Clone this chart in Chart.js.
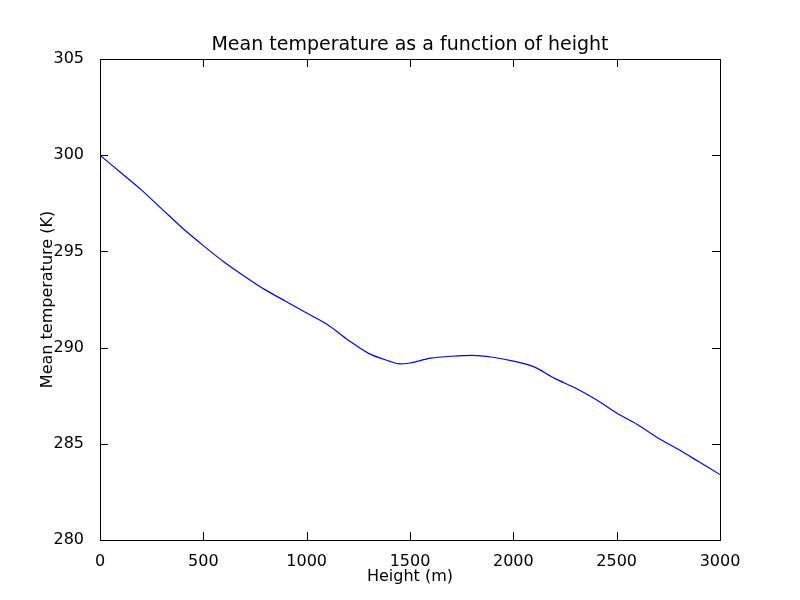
<!DOCTYPE html>
<html>
<head>
<meta charset="utf-8">
<script src="https://cdn.jsdelivr.net/npm/chart.js@4"></script>
<style>
  html, body { margin: 0; padding: 0; background: #fff; }
  #wrap { width: 800px; height: 600px; }
</style>
</head>
<body>
<div id="wrap"><canvas id="chart" width="800" height="600"></canvas></div>
<script>
// Heights (m) and mean temperature (K)
const heights = [0, 100, 200, 300, 400, 500, 600, 700, 800, 900, 1000, 1100, 1200, 1300,
  1400, 1450, 1500, 1600, 1700, 1800, 1900, 2000, 2100, 2200, 2300, 2400, 2500, 2600,
  2700, 2800, 2900, 3000];
const temps = [300.0, 299.1, 298.2, 297.2, 296.2, 295.3, 294.45, 293.7, 293.0, 292.4, 291.8,
  291.2, 290.4, 289.7, 289.3, 289.15, 289.2, 289.45, 289.55, 289.6, 289.5, 289.3, 289.0,
  288.4, 287.9, 287.3, 286.6, 286.0, 285.3, 284.7, 284.05, 283.4];

const titleText = 'Mean temperature as a function of height';
const font = 'DejaVu Sans';

// matplotlib-like frame, inward ticks and title
const frame = {
  id: 'frame',
  afterDraw(chart) {
    const { ctx, chartArea: a, scales } = chart;
    ctx.save();
    ctx.strokeStyle = '#000';
    ctx.lineWidth = 1;
    ctx.strokeRect(a.left + 0.5, a.top + 0.5, a.right - a.left, a.bottom - a.top);
    ctx.beginPath();
    scales.x.ticks.forEach(t => {
      const px = Math.round(scales.x.getPixelForValue(t.value)) + 0.5;
      ctx.moveTo(px, a.bottom); ctx.lineTo(px, a.bottom - 8);
      ctx.moveTo(px, a.top); ctx.lineTo(px, a.top + 8);
    });
    scales.y.ticks.forEach(t => {
      const py = Math.round(scales.y.getPixelForValue(t.value)) + 0.5;
      ctx.moveTo(a.left, py); ctx.lineTo(a.left + 8, py);
      ctx.moveTo(a.right, py); ctx.lineTo(a.right - 8, py);
    });
    ctx.stroke();
    ctx.fillStyle = '#000';
    ctx.font = '19px "' + font + '"';
    ctx.textAlign = 'center';
    ctx.textBaseline = 'bottom';
    ctx.fillText(titleText, (a.left + a.right) / 2, a.top - 4);
    ctx.restore();
  }
};

new Chart(document.getElementById('chart'), {
  type: 'line',
  data: {
    datasets: [{
      data: heights.map((h, i) => ({ x: h, y: temps[i] })),
      borderColor: '#0000ff',
      borderWidth: 1.2,
      pointRadius: 0,
      tension: 0.4,
      cubicInterpolationMode: 'monotone'
    }]
  },
  options: {
    responsive: false,
    animation: false,
    layout: { padding: { top: 59, right: 80, left: 36, bottom: 12 } },
    plugins: { legend: { display: false }, tooltip: { enabled: false } },
    scales: {
      x: {
        type: 'linear', min: 0, max: 3000,
        ticks: { stepSize: 500, color: '#000', font: { family: font, size: 16 }, padding: 4, maxRotation: 0,
          callback: v => String(v) },
        grid: { display: false },
        border: { display: false },
        title: { display: true, text: 'Height (m)', color: '#000', font: { family: font, size: 16 }, padding: 2 },
        afterFit(s) { s.height = 48; }
      },
      y: {
        min: 280, max: 305,
        ticks: { stepSize: 5, color: '#000', font: { family: font, size: 16 }, padding: 8,
          callback: v => String(v) },
        grid: { display: false },
        border: { display: false },
        title: { display: true, text: 'Mean temperature (K)', color: '#000', font: { family: font, size: 16 }, padding: 2 },
        afterFit(s) { s.width = 64; }
      }
    }
  },
  plugins: [frame]
});
</script>
</body>
</html>
